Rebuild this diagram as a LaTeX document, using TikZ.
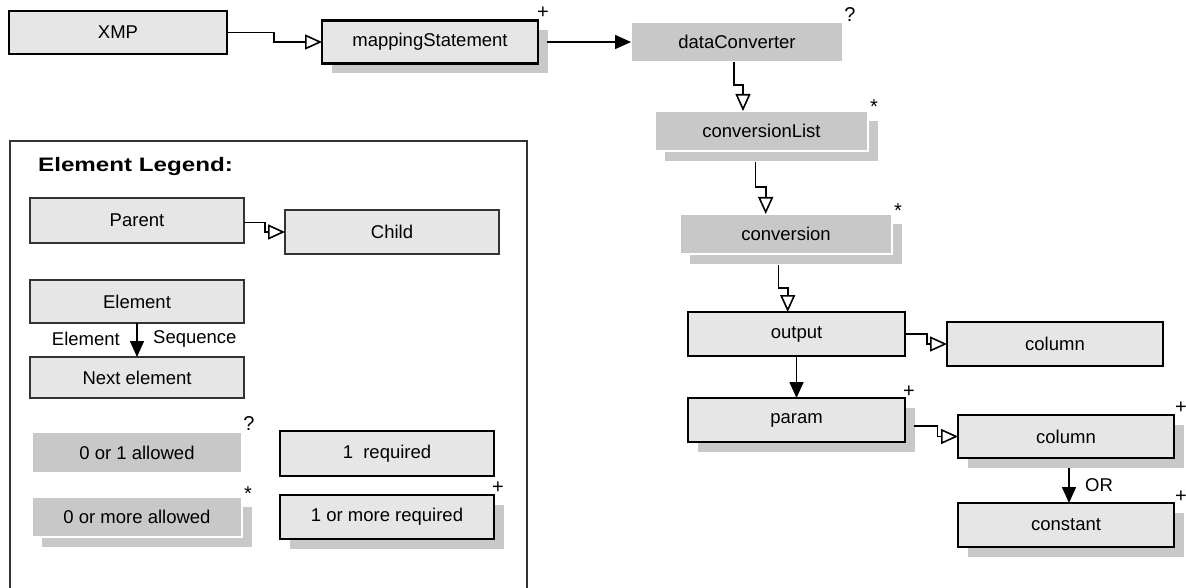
\documentclass[tikz,border=0pt]{standalone}
\usepackage{fontspec}
\usepackage{graphicx}
\setmainfont{Liberation Sans}
\usetikzlibrary{arrows.meta,shadows,calc}
\definecolor{boxfill}{HTML}{E6E6E6}
\definecolor{optfill}{HTML}{C8C8C8}
\definecolor{shadowgray}{HTML}{C8C8C8}
\definecolor{legendline}{HTML}{333333}
\tikzset{
  basebox/.style={inner sep=0pt, outer sep=0pt, font=\fontsize{18.5}{21}\selectfont, text=black},
  reqbox/.style={basebox, draw=black, line width=2.6pt, fill=boxfill},
  legreq/.style={basebox, draw=legendline, line width=2.2pt, fill=boxfill},
  optbox/.style={basebox, draw=white, line width=1.5pt, fill=optfill},
  manybox/.style={drop shadow={shadow xshift=10pt, shadow yshift=-10pt, fill=shadowgray, opacity=1}},
  sz/.style 2 args={minimum width=#1pt, minimum height=#2pt},
  mult/.style={font=\fontsize{20}{22}\selectfont, inner sep=0pt, anchor=base},
  conn/.style={line width=1.6pt, draw=black},
  tochild/.style={conn, -{Triangle[open, length=17pt, width=15pt, line width=1.6pt]}},
  tonext/.style={conn, -{Triangle[length=16pt, width=14pt]}},
  lbl/.style={font=\fontsize{18.5}{21}\selectfont, inner sep=0pt},
  legframe/.style={draw=legendline, line width=1.3pt}
}
\begin{document}
\begin{tikzpicture}[x=1pt, y=-1pt]
\useasboundingbox (0,0) rectangle (1186,588);

% main diagram
\node[reqbox, sz={218}{43}] (xmp) at (118,32.5) {XMP};
\node[reqbox, manybox, sz={216}{43}] (ms) at (430,42) {mappingStatement};
\node[optbox, sz={212}{40}] (dc) at (737,42) {dataConverter};
\node[optbox, manybox, sz={213}{40}] (cl) at (761.5,131) {conversionList};
\node[optbox, manybox, sz={212}{40}] (conv) at (786,234) {conversion};
\node[reqbox, sz={217}{44}] (out) at (796.5,334) {output};
\node[reqbox, sz={216}{44}] (col1) at (1055,344) {column};
\node[reqbox, manybox, sz={217}{44}] (param) at (796.5,420) {param};
\node[reqbox, manybox, sz={216}{43}] (col2) at (1066,436.5) {column};
\node[reqbox, manybox, sz={216}{44}] (const) at (1066,525) {constant};

\node[mult] (m1) at ([xshift=5pt,yshift=2pt]ms.north east) {+};
\node[mult] (m2) at ([xshift=7pt,yshift=0pt]dc.north east) {?};
\node[mult] (m3) at ([xshift=6pt,yshift=-3pt]cl.north east) {*};
\node[mult] (m4) at ([xshift=6pt,yshift=-4pt]conv.north east) {*};
\node[mult] (m5) at ([xshift=4pt,yshift=1pt]param.north east) {+};
\node[mult] (m6) at ([xshift=7pt,yshift=1.4pt]col2.north east) {+};
\node[mult] (m7) at ([xshift=7pt,yshift=0.4pt]const.north east) {+};

\draw[tochild] (xmp.east) -- ++(47,0) |- (ms.west);
\draw[tonext] ([xshift=9pt]ms.east) -- (dc.west);
\draw[tochild] ([xshift=-3pt]dc.south) -- ++(0,23) -| ([xshift=-18.5pt]cl.north);
\draw[tochild] ([xshift=-6pt,yshift=-11pt]cl.south) -- ++(0,25) -| ([xshift=-20.3pt]conv.north);
\draw[tochild] ([xshift=-7.7pt,yshift=-11pt]conv.south) -- ++(0,23) -| ([xshift=-8.8pt]out.north);
\draw[tochild] (out.east) -- ++(21.7,0) |- (col1.west);
\draw[tonext] (out.south) -- (param.north);
\draw[tochild] ([xshift=9pt,yshift=-6pt]param.east) -- ++(23.4,0) |- (col2.west);
\draw[tonext] ([xshift=3pt,yshift=-10pt]col2.south) -- ([xshift=3pt]const.north);
\node[lbl, anchor=west] (or) at (1085,485) {OR};

% legend
\coordinate (fbl) at (10,595);
\coordinate (ftl) at (10,141);
\coordinate (ftr) at (527,141);
\coordinate (fbr) at (527,595);
\draw[legframe] (fbl) -- (ftl) -- (ftr) -- (fbr);
\node[anchor=base west, inner sep=0pt] (title) at (38,172)
  {\scalebox{1.24}[1]{\bfseries\fontsize{19.5}{22}\selectfont Element Legend:}};

\node[legreq, sz={214}{45}] (parent) at (137,220.5) {Parent};
\node[legreq, sz={214}{44}, line width=1.9pt] (child) at (392,232) {Child};
\node[legreq, sz={214}{43}] (elem) at (137,301.5) {Element};
\node[legreq, sz={214}{41}] (next) at (137,377.5) {Next element};
\draw[tochild] ([yshift=-2pt]parent.east) -- ++(21,0) |- (child.west);
\draw[tonext] (elem.south) -- (next.north);
\node[lbl, anchor=east] (l1) at (120,339) {Element};
\node[lbl, anchor=west] (l2) at (153,339) {Sequence};

\node[optbox, sz={210}{41}] (o1) at (137,452.5) {0 or 1 allowed};
\node[legreq, line width=2.6pt, draw=black, sz={214}{45}] (r1) at (387,453.5) {1\ \ required};
\node[optbox, manybox, sz={210}{40}] (o2) at (137,517) {0 or more allowed};
\node[legreq, manybox, line width=2.6pt, draw=black, sz={214}{44}] (r2) at (387,517) {1 or more required};
\node[mult] (m8) at ([xshift=7pt,yshift=1.3pt]o1.north east) {?};
\node[mult] (m9) at ([xshift=6pt,yshift=-3pt]o2.north east) {*};
\node[mult] (m10) at ([xshift=4pt,yshift=1.4pt]r2.north east) {+};
\end{tikzpicture}
\end{document}
